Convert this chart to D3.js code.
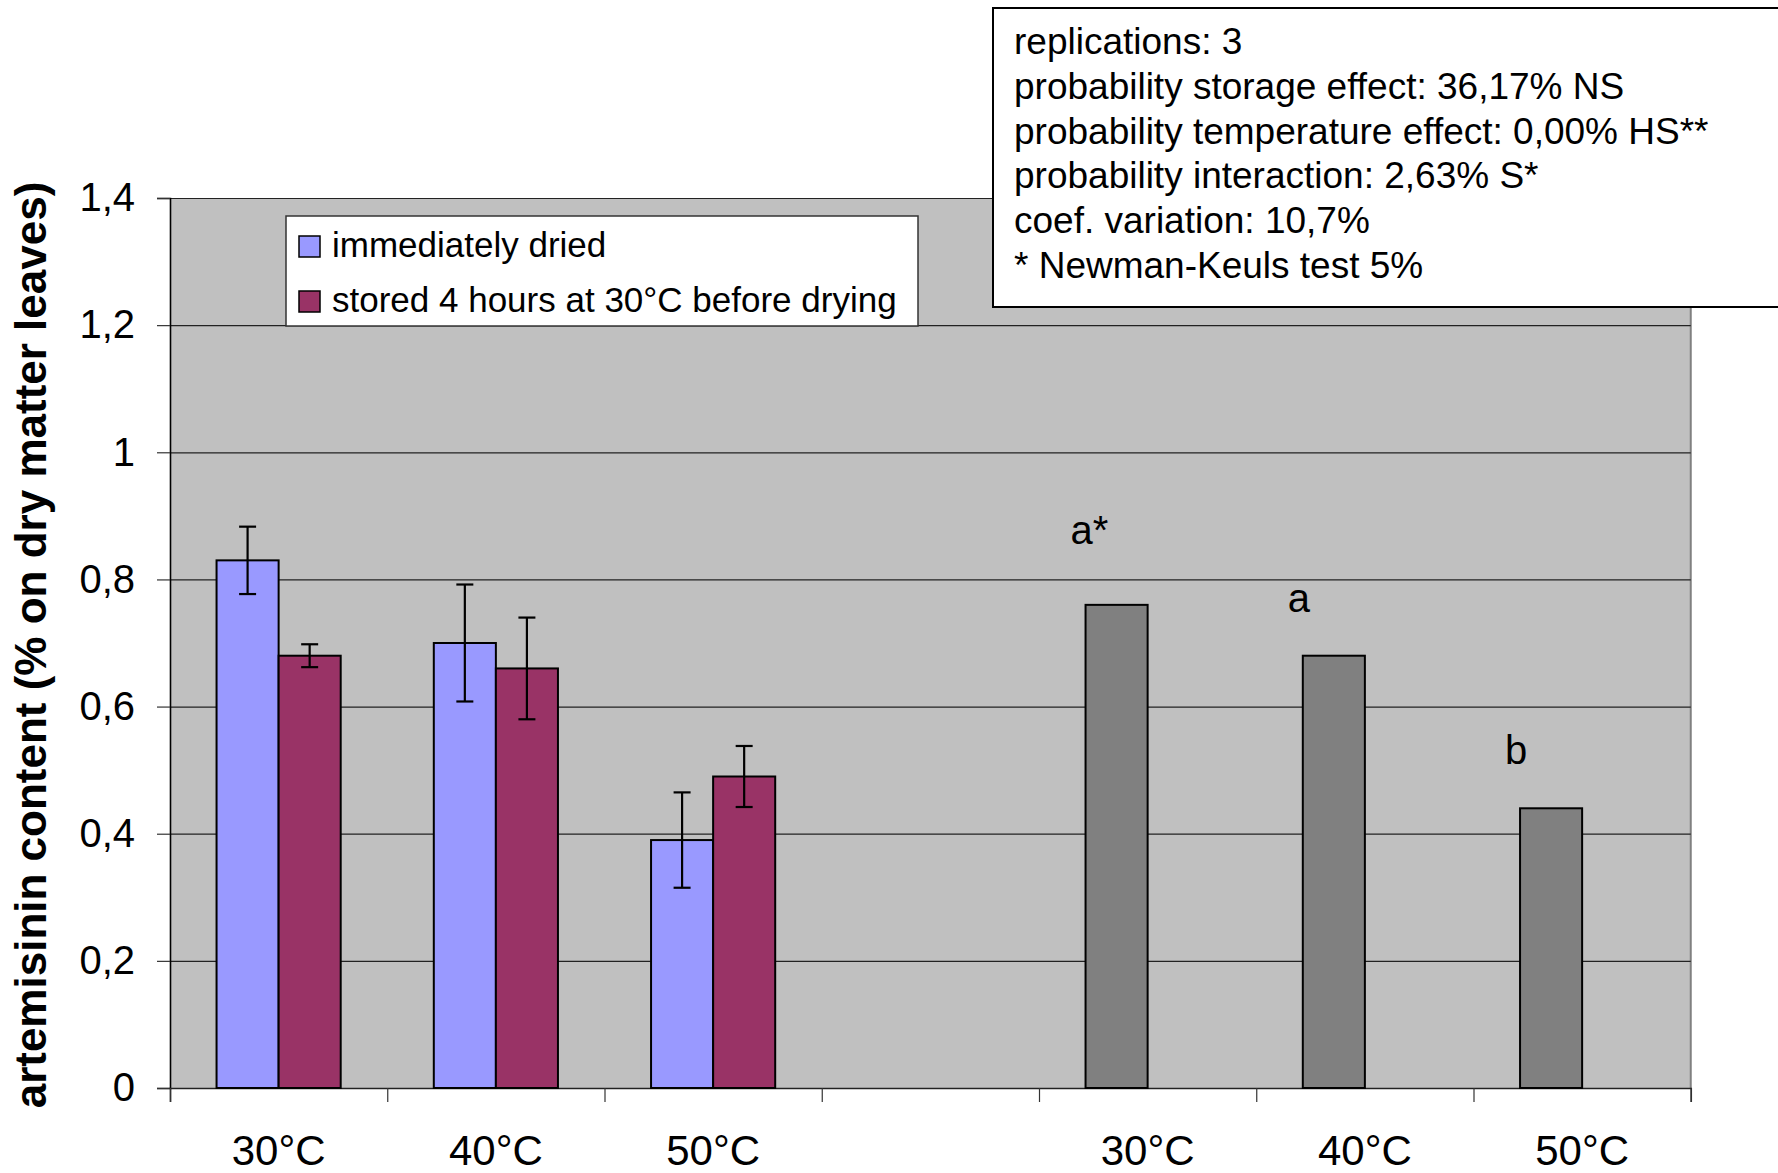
<!DOCTYPE html>
<html>
<head>
<meta charset="utf-8">
<script src="https://cdn.jsdelivr.net/npm/d3@7"></script>
<style>
  body { margin: 0; background: #fff; }
  text { font-family: "Liberation Sans", Arial, sans-serif; fill: #000; }
</style>
</head>
<body>
<svg id="chart" width="1778" height="1173"></svg>
<script>
// categories along the x axis (4th slot is an empty gap)
var categories = ['30°C', '40°C', '50°C', '', '30°C', '40°C', '50°C'];
var seriesNames = ['immediately dried', 'stored 4 hours at 30°C before drying'];

// per-treatment means and error bars (first 3 categories)
var immediate = [0.83, 0.70, 0.39];
var immediateErr = [0.053, 0.092, 0.075];
var stored = [0.68, 0.66, 0.49];
var storedErr = [0.018, 0.080, 0.048];

// temperature means (last 3 categories) with significance letters
var tempMeans = [0.76, 0.68, 0.44];
var tempLetters = ['a*', 'a', 'b'];
var letterLevel = [0.855, 0.748, 0.51];

var yTicks = [0, 0.2, 0.4, 0.6, 0.8, 1, 1.2, 1.4];

var infoLines = ['replications: 3',
                 'probability storage effect: 36,17% NS',
                 'probability temperature effect: 0,00% HS**',
                 'probability interaction: 2,63% S*',
                 'coef. variation: 10,7%',
                 '* Newman-Keuls test 5%'];

var colors = ['#9999ff', '#993366'];
var grayFill = '#808080';

var svg = d3.select('#chart');
var plot = {left: 170, right: 1690.75, top: 198, bottom: 1088};

var x0 = d3.scaleBand().domain(d3.range(categories.length))
    .range([plot.left, plot.right]).paddingInner(0).paddingOuter(0);
var x1 = d3.scaleBand().domain([0, 1]).range([0, x0.bandwidth()]).paddingInner(0).paddingOuter(0.75);
var xEdge = d3.scaleLinear().domain([0, categories.length]).range([plot.left, plot.right]);
var y = d3.scaleLinear().domain([0, 1.4]).range([plot.bottom, plot.top]);

var fmt = function(d){ return String(+d.toFixed(1)).replace('.', ','); };

// plot background
svg.append('rect').attr('x', plot.left).attr('y', plot.top)
    .attr('width', plot.right - plot.left).attr('height', plot.bottom - plot.top)
    .attr('fill', '#c0c0c0');
svg.append('line').attr('x1', plot.right).attr('x2', plot.right)
    .attr('y1', plot.top).attr('y2', plot.bottom)
    .attr('stroke', '#808080').attr('stroke-width', 2);

// gridlines
var grid = svg.append('g').attr('transform', 'translate(' + plot.left + ',0)')
    .call(d3.axisLeft(y).tickValues(yTicks).tickSize(-(plot.right - plot.left)).tickFormat(''));
grid.select('.domain').remove();
grid.selectAll('line').attr('stroke', '#222').attr('stroke-width', 1.2);

// y axis
var yAxis = svg.append('g').attr('transform', 'translate(' + plot.left + ',0)')
    .call(d3.axisLeft(y).tickValues(yTicks).tickSize(13).tickPadding(22).tickFormat(fmt));
yAxis.select('.domain').attr('stroke', '#000').attr('stroke-width', 1.6);
yAxis.selectAll('line').attr('stroke', '#333').attr('stroke-width', 1.2);
yAxis.selectAll('text').style('font-size', '40px')
    .style('font-family', '"Liberation Sans", Arial, sans-serif').attr('fill', '#000');

// x axis (tick marks at band edges)
var xAxis = svg.append('g').attr('transform', 'translate(0,' + plot.bottom + ')')
    .call(d3.axisBottom(xEdge).tickValues(d3.range(categories.length + 1)).tickSize(14).tickFormat(''));
xAxis.select('.domain').attr('stroke', '#222').attr('stroke-width', 1.6);
xAxis.selectAll('line').attr('stroke', '#333').attr('stroke-width', 1.2);

svg.append('g').selectAll('text').data(categories).enter().append('text')
    .attr('x', function(d, i){ return x0(i) + x0.bandwidth()/2; })
    .attr('y', 1165)
    .attr('text-anchor', 'middle')
    .style('font-size', '42px')
    .text(function(d){ return d; });

// treatment bars
var groups = [immediate, stored];
var errs = [immediateErr, storedErr];
groups.forEach(function(vals, s){
    var g = svg.append('g');
    g.selectAll('rect').data(vals).enter().append('rect')
        .attr('x', function(d, i){ return x0(i) + x1(s); })
        .attr('y', function(d){ return y(d); })
        .attr('width', x1.bandwidth())
        .attr('height', function(d){ return y(0) - y(d); })
        .attr('fill', colors[s]).attr('stroke', '#000').attr('stroke-width', 2);
});

// error bars
groups.forEach(function(vals, s){
    var g = svg.append('g').attr('stroke', '#000').attr('stroke-width', 2.2);
    vals.forEach(function(d, i){
        var cx = x0(i) + x1(s) + x1.bandwidth()/2;
        var hi = y(d + errs[s][i]), lo = y(d - errs[s][i]);
        g.append('line').attr('x1', cx).attr('x2', cx).attr('y1', hi).attr('y2', lo);
        g.append('line').attr('x1', cx - 8.5).attr('x2', cx + 8.5).attr('y1', hi).attr('y2', hi);
        g.append('line').attr('x1', cx - 8.5).attr('x2', cx + 8.5).attr('y1', lo).attr('y2', lo);
    });
});

// temperature mean bars
var tg = svg.append('g');
tg.selectAll('rect').data(tempMeans).enter().append('rect')
    .attr('x', function(d, i){ return x0(i + 4) + x1(0); })
    .attr('y', function(d){ return y(d); })
    .attr('width', x1.bandwidth())
    .attr('height', function(d){ return y(0) - y(d); })
    .attr('fill', grayFill).attr('stroke', '#000').attr('stroke-width', 2);

tg.selectAll('text').data(tempLetters).enter().append('text')
    .attr('x', function(d, i){ return x0(i + 4) + x1(0) - 15; })
    .attr('y', function(d, i){ return y(letterLevel[i]); })
    .style('font-size', '40px')
    .text(function(d){ return d; });

// y title
svg.append('text')
    .attr('transform', 'translate(46,645) rotate(-90)')
    .attr('text-anchor', 'middle')
    .style('font-size', '44px').style('font-weight', 'bold')
    .text('artemisinin content (% on dry matter leaves)');

// legend
var lg = svg.append('g');
lg.append('rect').attr('x', 286).attr('y', 216).attr('width', 632).attr('height', 110)
    .attr('fill', '#fff').attr('stroke', '#333').attr('stroke-width', 1.5);
seriesNames.forEach(function(name, s){
    var by = 257 + s*55;
    lg.append('rect').attr('x', 299).attr('y', by - 21).attr('width', 21).attr('height', 21)
        .attr('fill', colors[s]).attr('stroke', '#000').attr('stroke-width', 1.5);
    lg.append('text').attr('x', 332).attr('y', by).style('font-size', '35px').text(name);
});

// statistics box
var ib = svg.append('g');
ib.append('rect').attr('x', 993).attr('y', 8).attr('width', 800).attr('height', 299)
    .attr('fill', '#fff').attr('stroke', '#000').attr('stroke-width', 2);
ib.selectAll('text').data(infoLines).enter().append('text')
    .attr('x', 1014)
    .attr('y', function(d, i){ return 54 + i*44.8; })
    .style('font-size', '37px')
    .text(function(d){ return d; });
</script>
</body>
</html>
